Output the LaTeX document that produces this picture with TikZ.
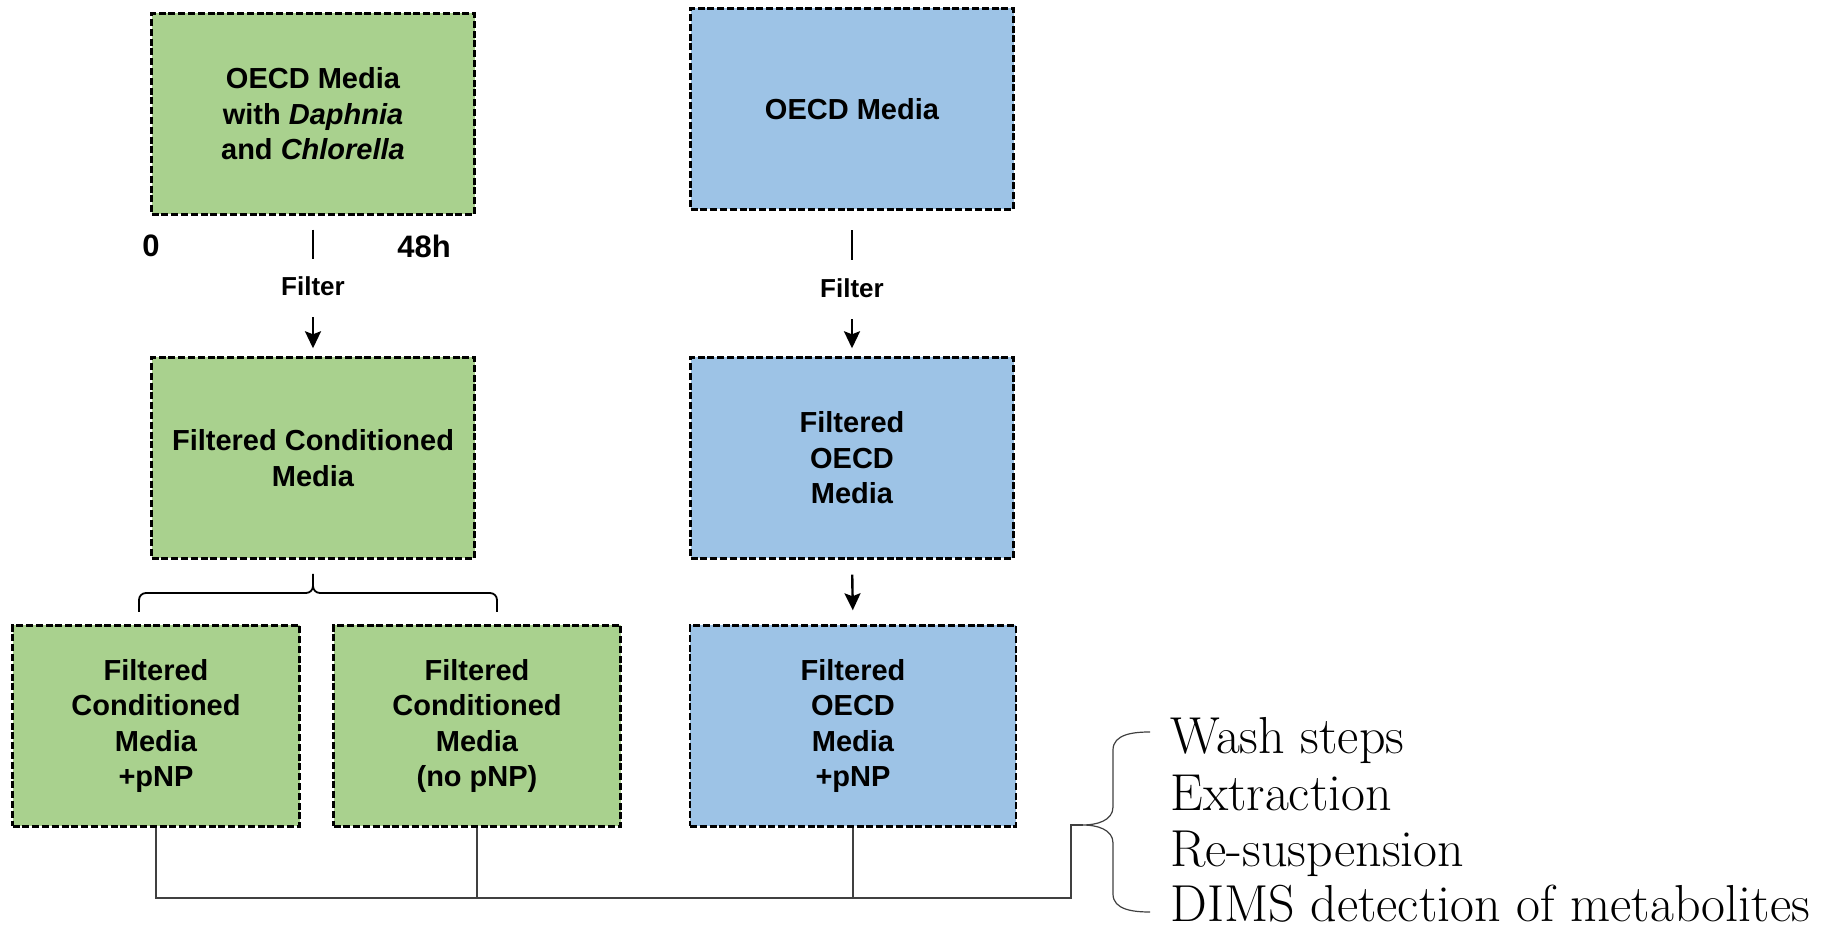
\documentclass[tikz,border=0pt]{standalone}
\usepackage{fontspec}
\setsansfont{Liberation Sans}
\usetikzlibrary{
		calc,
		positioning,
		arrows.meta
	}
\definecolor{mediagreen}{HTML}{A9D18E}
\definecolor{mediablue}{HTML}{9DC3E6}
\tikzset{
		>={Stealth[length=8.5pt,width=8pt,inset=1.5pt]},
		mediabox/.style={draw, line width=1.2pt, dash pattern=on 3.5pt off 1.4pt, inner sep=0pt, minimum width=161.5pt, minimum height=100.5pt, align=center, font=\sffamily\bfseries\fontsize{14.5}{17.7}\selectfont},
		gbox/.style={mediabox, fill=mediagreen},
		bbox/.style={mediabox, fill=mediablue},
		timelbl/.style={font=\sffamily\bfseries\fontsize{15.5}{18}\selectfont},
		filterlbl/.style={font=\sffamily\bfseries\fontsize{13}{15}\selectfont},
		tickline/.style={line width=1.2pt},
		flow/.style={->, line width=1.2pt},
		bracket/.style={line width=0.9pt},
		link/.style={draw=black!75, line width=0.6pt},
		steptext/.style={anchor=base west, inner sep=0pt, font=\fontsize{26}{29}\selectfont}
	}

\begin{document}
\begin{tikzpicture}[x=0.5pt, y=-0.5pt]
		\useasboundingbox (0,0) rectangle (1822,929);
		% green column
		\node[gbox] (media) at (313,114) {OECD Media\\with \textit{Daphnia}\\and \textit{Chlorella}};
		\node[timelbl] (t0) at (151,246) {0}; \node[timelbl] (t48) at (424,246) {48h};
		\draw[tickline] (media.south) ++(0,14) -- ++(0,29);
		\node[filterlbl] (filtA) at (313,286) {Filter};
		\node[gbox] (condmedia) at (313,458) {Filtered Conditioned\\Media};
		\draw[flow, <-, shorten <=4pt] (condmedia.north) -- ++(0,-39);
		\draw[bracket] (313,574) -- ++(0,12) to[out=-90,in=0] ++(-7,7) -- (146,593) to[out=180,in=90] (139,600) -- (139,612);
		\draw[bracket] (313,586) to[out=-90,in=180] ++(7,7) -- (490,593) to[out=0,in=90] (497,600) -- (497,612);
		\node[gbox, minimum width=143.5pt] (condpnp) at (156,726) {Filtered\\Conditioned\\Media\\+pNP};
		\node[gbox, minimum width=143.5pt] (condnopnp) at (477,726) {Filtered\\Conditioned\\Media\\(no pNP)};
		% blue column
		\node[bbox] (oecd) at (852,109) {OECD Media};
		\draw[tickline] (oecd.south) ++(0,19.5) -- ++(0,30);
		\node[filterlbl] (filtB) at (852,288) {Filter};
		\node[bbox] (filtoecd) at (852,458) {Filtered\\OECD\\Media};
		\draw[flow, <-, shorten <=4pt] (filtoecd.north) -- ++(0,-37);
		\node[bbox, minimum width=163pt] (oecdpnp) at (853,726) {Filtered\\OECD\\Media\\+pNP};
		\draw[flow, shorten <=7.5pt, shorten >=7pt] (filtoecd.south) -- (oecdpnp.north);
		% pooled samples
		\coordinate (join) at (1071,898); \coordinate (tip) at (1083,825);
		\draw[link] (condpnp.south) |- (join) -- (join |- tip) -- (tip);
		\draw[link] (condnopnp.south) -- (condnopnp.south |- join);
		\draw[link] (oecdpnp.south) -- (oecdpnp.south |- join);
		\draw[link] (1150,732) to[out=180,in=90] (1113,750) -- (1113,807) to[out=-90,in=0] (tip) to[out=0,in=90] (1113,843) -- (1113,894) to[out=-90,in=180] (1150,912);
		\node[steptext] (wash) at (1170,754) {Wash steps};
		\node[steptext] (extract) at (1170,811) {Extraction};
		\node[steptext] (resusp) at (1170,867) {Re-suspension};
		\node[steptext] (dims) at (1170,922) {DIMS detection of metabolites};
	\end{tikzpicture}
\end{document}
